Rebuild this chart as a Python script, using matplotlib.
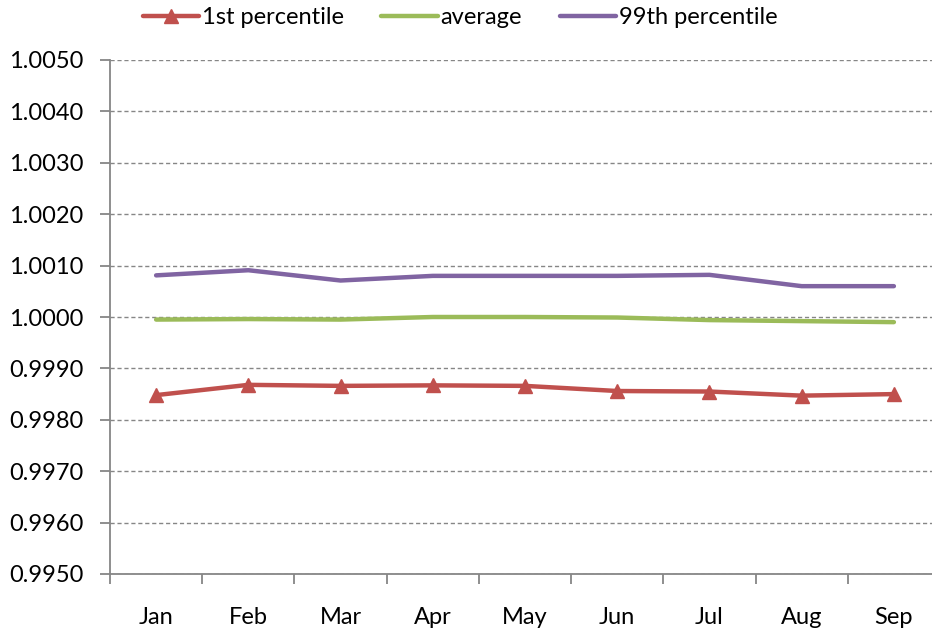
import matplotlib
matplotlib.use("Agg")
import matplotlib.pyplot as plt
from matplotlib.ticker import FixedLocator, FormatStrFormatter

months = ["Jan", "Feb", "Mar", "Apr", "May", "Jun", "Jul", "Aug", "Sep"]
p1 = [0.99848, 0.99868, 0.99866, 0.99867, 0.99866, 0.99856, 0.99855, 0.99847, 0.99850]
avg = [0.99995, 0.99996, 0.99995, 1.00000, 1.00000, 0.99999, 0.99994, 0.99992, 0.99990]
p99 = [1.00081, 1.00091, 1.00071, 1.00080, 1.00080, 1.00080, 1.00082, 1.00060, 1.00060]
yticks = [0.9950, 0.9960, 0.9970, 0.9980, 0.9990, 1.0000, 1.0010, 1.0020, 1.0030, 1.0040, 1.0050]

plt.rcParams['font.family'] = ['Lato', 'DejaVu Sans']
fig = plt.figure(figsize=(9.32, 6.35), dpi=100)
ax = fig.add_axes([110/932, 1-574/635, 830/932, (574-60)/635])

x = list(range(len(months)))
ax.plot(x, p1, color="#C0504D", lw=3.2, marker="^", markersize=10, label="1st percentile", solid_capstyle="round")
ax.plot(x, avg, color="#9BBB59", lw=3.2, label="average", solid_capstyle="round")
ax.plot(x, p99, color="#8064A2", lw=3.2, label="99th percentile", solid_capstyle="round")

ax.set_xlim(-0.5, 8.5)
ax.set_ylim(0.9950, 1.0050)
ax.set_yticks(yticks)
ax.yaxis.set_major_formatter(FormatStrFormatter("%.4f"))
ax.set_xticks(x)
ax.set_xticklabels(months)
ax.xaxis.set_minor_locator(FixedLocator([i - 0.5 for i in range(len(months) + 1)]))
ax.tick_params(axis="x", which="major", length=0, pad=24, labelsize=17)
ax.tick_params(axis="x", which="minor", length=7, width=1.3, color="#868686", direction="out")
ax.tick_params(axis="y", length=7, width=1.3, color="#868686", pad=12, labelsize=17)

ax.grid(axis="y", linestyle=(0, (3, 2)), color="#868686", lw=1)
ax.set_axisbelow(True)
for s in ["top", "right"]:
    ax.spines[s].set_visible(False)
for s in ["left", "bottom"]:
    ax.spines[s].set_color("#868686")
    ax.spines[s].set_linewidth(1.3)

fig.legend(loc="center", bbox_to_anchor=(460/932, 1-18/635), ncol=3, frameon=False,
           fontsize=17, handlelength=2.4, handletextpad=0.1, columnspacing=1.6,
           borderaxespad=0, borderpad=0)

fig.savefig("out.png", dpi=100)
